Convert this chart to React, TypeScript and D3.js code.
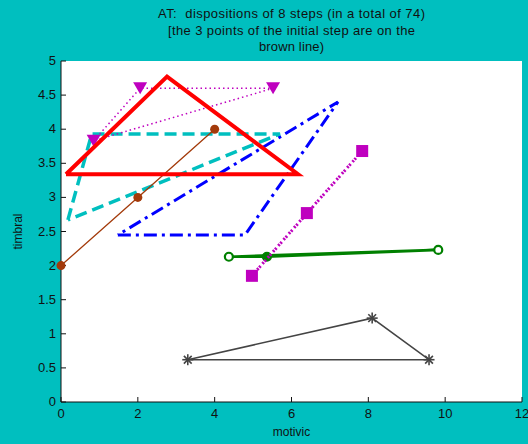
import React from 'react';
import * as d3 from 'd3';

// each step: three points (motivic, timbral), drawn as a closed triangle
const brownStep = [[0, 2.0], [2.0, 3.0], [4.0, 4.0]];
const redStep = [[0.13, 3.34], [2.76, 4.77], [6.17, 3.34]];
const magentaTriStep = [[0.85, 3.83], [2.06, 4.6], [5.52, 4.6]];
const cyanStep = [[0.18, 2.67], [0.8, 3.93], [5.7, 3.93]];
const blueStep = [[1.48, 2.45], [4.79, 2.45], [7.21, 4.4]];
const magentaSqStep = [[4.97, 1.85], [6.4, 2.77], [7.84, 3.68]];
const greenStep = [[4.37, 2.13], [5.36, 2.13], [9.82, 2.23]];
const grayStep = [[3.3, 0.62], [8.1, 1.23], [9.58, 0.62]];

const xTicks = [0, 2, 4, 6, 8, 10, 12];
const yTicks = [0, 0.5, 1, 1.5, 2, 2.5, 3, 3.5, 4, 4.5, 5];
const titleLines = [
  'AT:  dispositions of 8 steps (in a total of 74)',
  '[the 3 points of the initial step are on the',
  'brown line)',
];
const titleWidths = [267, 247, 65];

const W = 528;
const H = 444;
const margin = { top: 61, right: 6, bottom: 42, left: 61 };

const App = () => {
  const x = d3.scaleLinear().domain([0, 12]).range([margin.left, W - margin.right]);
  const y = d3.scaleLinear().domain([0, 5]).range([H - margin.bottom, margin.top]);
  const line = d3.line<number[]>().x(d => x(d[0])).y(d => y(d[1]));
  const closed = (pts: number[][]) => line([...pts, pts[0]]) as string;

  const font = '"Liberation Sans", Arial, sans-serif';
  const x0 = x(0), y0 = y(0), x1 = x(12), y1 = y(5);

  const star = (cx: number, cy: number, k: string) => (
    <g key={k} stroke="#444" strokeWidth={1.6}>
      {[0, 45, 90, 135].map(a => {
        const r = 5.5, t = (a * Math.PI) / 180;
        return <line key={a} x1={cx - r * Math.cos(t)} y1={cy - r * Math.sin(t)} x2={cx + r * Math.cos(t)} y2={cy + r * Math.sin(t)} />;
      })}
    </g>
  );

  return (
    <svg width={W} height={H} style={{ position: 'absolute', left: 0, top: 0 }} fontFamily={font}>
      <rect width={W} height={H} fill="#00bfbf" />
      <rect x={x0} y={y1} width={x1 - x0} height={y0 - y1} fill="#fff" />

      {titleLines.map((t, i) => (
        <text key={i} x={(x0 + x1) / 2} y={18 + i * 16.5} textAnchor="middle" fontSize={13} fill="#111"
          textLength={titleWidths[i]} lengthAdjust="spacing" style={{ whiteSpace: 'pre' }}>{t}</text>
      ))}

      {/* axes */}
      <line x1={x0} y1={y0} x2={x1} y2={y0} stroke="#111" />
      <line x1={x0} y1={y0} x2={x0} y2={y1} stroke="#111" />
      {xTicks.map(t => (
        <g key={t}>
          <line x1={x(t)} x2={x(t)} y1={y0} y2={y0 - 5} stroke="#111" />
          <text x={x(t)} y={y0 + 16} textAnchor="middle" fontSize={13} fill="#111">{t}</text>
        </g>
      ))}
      {yTicks.map(t => (
        <g key={t}>
          <line x1={x0} x2={x0 + 5} y1={y(t)} y2={y(t)} stroke="#111" />
          <text x={x0 - 5} y={y(t) + 4} textAnchor="end" fontSize={13} fill="#111">{t}</text>
        </g>
      ))}
      <text x={(x0 + x1) / 2} y={436} textAnchor="middle" fontSize={12} fill="#111">motivic</text>
      <text transform={`translate(22, ${(y0 + y1) / 2}) rotate(-90)`} textAnchor="middle" fontSize={12} fill="#111">timbral</text>

      {/* gray stars */}
      <path d={closed(grayStep)} fill="none" stroke="#444" strokeWidth={1.6} />
      {grayStep.map((p, i) => star(x(p[0]), y(p[1]), 'g' + i))}

      {/* green circles */}
      <path d={closed(greenStep)} fill="none" stroke="#008000" strokeWidth={2.6} />
      {greenStep.map((p, i) => (
        <circle key={i} cx={x(p[0])} cy={y(p[1])} r={4} fill={i === 1 ? '#008000' : '#fff'} stroke="#008000" strokeWidth={2.2} />
      ))}

      {/* magenta squares */}
      <path d={closed(magentaSqStep)} fill="none" stroke="#bf00bf" strokeWidth={3} strokeDasharray="2 6" />
      {magentaSqStep.map((p, i) => (
        <rect key={i} x={x(p[0]) - 6} y={y(p[1]) - 6} width={12} height={12} fill="#bf00bf" />
      ))}

      {/* blue dash-dot */}
      <path d={closed(blueStep)} fill="none" stroke="#0000ff" strokeWidth={3} strokeDasharray="13 5 3 5" />

      {/* cyan dashed */}
      <path d={closed(cyanStep)} fill="none" stroke="#00bfbf" strokeWidth={3.5} strokeDasharray="12 6" />

      {/* brown circles */}
      <path d={line(brownStep) as string} fill="none" stroke="#a33a0a" strokeWidth={1.3} />
      {brownStep.map((p, i) => (
        <circle key={i} cx={x(p[0])} cy={y(p[1])} r={4.5} fill="#a33a0a" />
      ))}

      {/* magenta triangles */}
      <path d={closed(magentaTriStep)} fill="none" stroke="#bf00bf" strokeWidth={1.5} strokeDasharray="1.5 3" />
      {magentaTriStep.map((p, i) => {
        const cx = x(p[0]), cy = y(p[1]);
        return <path key={i} d={`M${cx - 7},${cy - 6}L${cx + 7},${cy - 6}L${cx},${cy + 6}Z`} fill="#bf00bf" />;
      })}

      {/* red thick */}
      <path d={closed(redStep)} fill="none" stroke="#ff0000" strokeWidth={4} strokeLinejoin="miter" />
    </svg>
  );
};

export default App;
